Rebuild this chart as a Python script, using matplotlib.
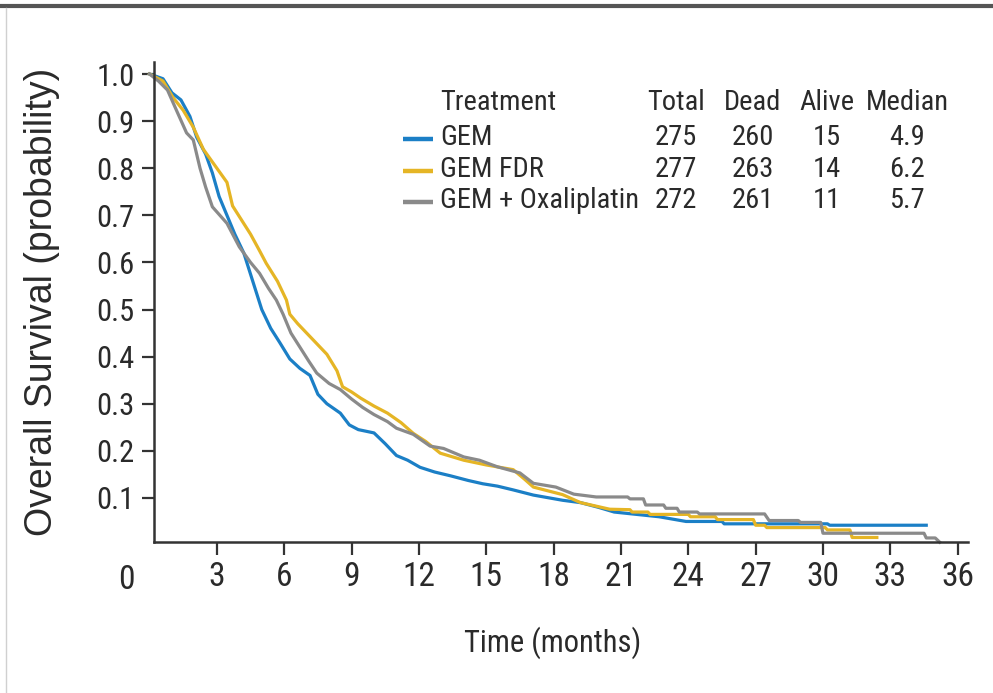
import numpy as np
import matplotlib
matplotlib.use("Agg")
import matplotlib.pyplot as plt
from matplotlib.lines import Line2D

plt.rcParams["font.family"] = ["Liberation Sans Narrow", "Roboto Condensed",
                               "Noto Sans Condensed", "DejaVu Sans Condensed",
                               "Liberation Sans", "DejaVu Sans"]
plt.rcParams["font.stretch"] = "condensed"

COLOR_GEM = "#1B7FC6"
COLOR_FDR = "#E5B525"
COLOR_OX = "#8A8A8A"
TEXT_COLOR = "#2a2a2a"
AXIS_COLOR = "#333333"

# Kaplan-Meier curves (months, survival);
# flat stretches are given by their two ends
gem_t = [0, 0.6, 1.0, 1.4, 1.8, 2.1, 2.5, 2.8, 3.1, 3.45, 3.8, 4.2, 4.6, 5.0,
         5.4, 5.8, 6.25, 6.7, 7.15, 7.5, 7.9, 8.5, 8.9, 9.3, 10.0, 10.5, 11.0,
         11.5, 12.05, 12.7, 13.4, 14.2, 14.85, 15.5, 16.2, 17.1, 18.4, 19.2,
         20.0, 20.7, 21.7, 22.7, 23.9, 25.5, 25.6, 30.2, 30.3, 34.6]
gem_s = [1.0, 0.99, 0.96, 0.945, 0.91, 0.866, 0.83, 0.79, 0.74, 0.70, 0.66,
         0.62, 0.56, 0.50, 0.46, 0.43, 0.395, 0.375, 0.36, 0.32, 0.30, 0.28,
         0.255, 0.245, 0.238, 0.215, 0.19, 0.18, 0.165, 0.155, 0.147, 0.137,
         0.13, 0.125, 0.117, 0.106, 0.095, 0.09, 0.08, 0.07, 0.065, 0.06,
         0.05, 0.05, 0.045, 0.045, 0.042, 0.042]

fdr_t = [0, 0.6, 1.05, 1.5, 1.95, 2.4, 3.0, 3.45, 3.7, 4.1, 4.5, 4.9, 5.2, 5.7,
         6.1, 6.25, 6.6, 7.0, 7.4, 7.9, 8.35, 8.6, 9.0, 9.4, 10.0, 10.6, 11.2,
         11.75, 12.3, 12.95, 14.0, 15.0, 16.2, 16.7, 17.1, 18.4, 19.2, 20.5,
         21.4, 21.5, 22.2, 22.3, 24.0, 24.1, 25.2, 25.3, 26.9, 27.0, 27.4,
         27.5, 30.1, 30.2, 31.2, 31.3, 32.4]
fdr_s = [1.0, 0.985, 0.95, 0.923, 0.887, 0.84, 0.80, 0.77, 0.72, 0.69, 0.66,
         0.625, 0.598, 0.56, 0.52, 0.49, 0.47, 0.45, 0.43, 0.405, 0.37, 0.336,
         0.325, 0.312, 0.295, 0.28, 0.26, 0.237, 0.22, 0.195, 0.18, 0.17,
         0.16, 0.14, 0.123, 0.107, 0.09, 0.076, 0.075, 0.07, 0.07, 0.065,
         0.065, 0.06, 0.06, 0.054, 0.054, 0.042, 0.042, 0.037, 0.037, 0.032,
         0.032, 0.016, 0.016]

ox_t = [0, 0.4, 0.8, 1.2, 1.65, 1.95, 2.25, 2.5, 2.8, 3.45, 4.0, 4.5, 4.9, 5.3,
        5.65, 5.95, 6.3, 6.7, 7.1, 7.45, 8.0, 8.5, 9.0, 9.5, 10.0, 10.6, 11.0,
        11.75, 12.5, 13.1, 14.0, 14.7, 15.5, 16.5, 17.1, 18.1, 18.9, 19.9,
        21.3, 21.4, 22.0, 22.1, 22.9, 23.0, 23.5, 23.6, 24.4, 24.5, 27.4,
        27.6, 28.9, 29.0, 29.9, 30.0, 34.5, 34.6, 35.0, 35.2]
ox_s = [1.0, 0.985, 0.966, 0.923, 0.875, 0.86, 0.80, 0.76, 0.718, 0.683,
        0.633, 0.60, 0.577, 0.545, 0.52, 0.49, 0.45, 0.42, 0.39, 0.365, 0.343,
        0.33, 0.31, 0.292, 0.277, 0.262, 0.248, 0.235, 0.21, 0.205, 0.187,
        0.18, 0.166, 0.153, 0.131, 0.123, 0.108, 0.102, 0.102, 0.098, 0.098,
        0.085, 0.085, 0.078, 0.078, 0.07, 0.07, 0.066, 0.066, 0.052, 0.052,
        0.048, 0.048, 0.025, 0.025, 0.015, 0.015, 0.006]

treatments = ["GEM", "GEM FDR", "GEM + Oxaliplatin"]
totals = [275, 277, 272]
deads = [260, 263, 261]
alives = [15, 14, 11]
medians = [4.9, 6.2, 5.7]
columns = ["Total", "Dead", "Alive", "Median"]

x_ticks = list(range(3, 37, 3))
y_ticks = [0.1, 0.2, 0.3, 0.4, 0.5, 0.6, 0.7, 0.8, 0.9, 1.0]

W, H = 993, 693
fig = plt.figure(figsize=(W / 100, H / 100), dpi=100)


def fx(px):
    return px / W


def fy(py):
    return 1 - py / H


ax = fig.add_axes([fx(154), fy(542), fx(968) - fx(154), fy(62) - fy(542)])

colors = [COLOR_GEM, COLOR_FDR, COLOR_OX]
for t, s, c in [(gem_t, gem_s, COLOR_GEM), (fdr_t, fdr_s, COLOR_FDR), (ox_t, ox_s, COLOR_OX)]:
    ax.plot(t, s, color=c, lw=2.3, solid_joinstyle="round", clip_on=False)

ax.set_xlim(0.2, 36.46)
ax.set_ylim(0.0064, 1.0255)
ax.set_xticks(x_ticks)
ax.set_yticks(y_ticks)
ax.set_xticklabels([str(v) for v in x_ticks], fontsize=24, color=TEXT_COLOR)
ax.set_yticklabels([f"{v:.1f}" for v in y_ticks], fontsize=22, color=TEXT_COLOR)
ax.tick_params(axis="both", direction="out", length=9, width=1.6, color=AXIS_COLOR)
ax.tick_params(axis="x", pad=5)
ax.tick_params(axis="y", pad=5)
for side in ["top", "right"]:
    ax.spines[side].set_visible(False)
for side in ["left", "bottom"]:
    ax.spines[side].set_linewidth(1.8)
    ax.spines[side].set_color(AXIS_COLOR)
    ax.spines[side].set_zorder(5)

fig.text(fx(126), fy(580), "0", fontsize=24, color=TEXT_COLOR, ha="center", va="center")
fig.text(fx(553), fy(643), "Time (months)", fontsize=22, color=TEXT_COLOR,
         ha="center", va="center")
fig.text(fx(42), fy(302), "Overall Survival (probability)", fontsize=27,
         color=TEXT_COLOR, ha="center", va="center", rotation=90,
         family=["Liberation Sans", "DejaVu Sans"], stretch="normal")

# table-style legend
col_x = [676, 753, 827, 907]
fs = 20.5
fig.text(fx(440), fy(110), "Treatment", fontsize=fs, color=TEXT_COLOR, va="baseline")
for cx, name in zip(col_x, columns):
    fig.text(fx(cx), fy(110), name, fontsize=fs, color=TEXT_COLOR, ha="center", va="baseline")
row_base = [145, 177, 208]
for i, name in enumerate(treatments):
    yb = row_base[i]
    fig.add_artist(Line2D([fx(403), fx(433)], [fy(yb - 6), fy(yb - 6)],
                          color=colors[i], lw=3.2, solid_capstyle="butt"))
    fig.text(fx(440), fy(yb), name, fontsize=fs, color=TEXT_COLOR, va="baseline")
    vals = [str(totals[i]), str(deads[i]), str(alives[i]), f"{medians[i]:.1f}"]
    for cx, v in zip(col_x, vals):
        fig.text(fx(cx), fy(yb), v, fontsize=fs, color=TEXT_COLOR, ha="center", va="baseline")

# frame lines of the source figure
fig.add_artist(Line2D([0, 1], [fy(6), fy(6)], color="#555555", lw=3))
fig.add_artist(Line2D([fx(6), fx(6)], [fy(8), 0], color="#d0d0d0", lw=1))

fig.savefig("out.png", dpi=100)
